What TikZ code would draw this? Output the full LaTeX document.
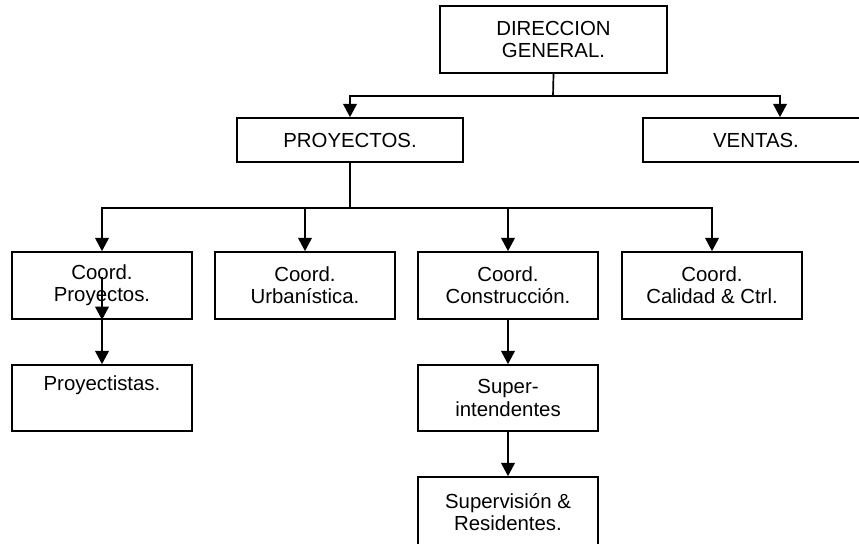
\documentclass[tikz,border=0pt]{standalone}
\usepackage{fontspec}
\setmainfont{Liberation Sans}
\usetikzlibrary{arrows.meta,positioning,calc}
\tikzset{
    every node/.append style={align=center},
    box/.style={rectangle,draw=black,line width=1.2pt,minimum width=4.5cm,
        minimum height=1.675cm,font=\fontsize{14.5}{15.8}\selectfont,inner sep=2pt},
    topbox/.style={box,minimum width=5.65cm,minimum height=1.1cm},
    arr/.style={-{Triangle[length=3.3mm,width=3.4mm]},line width=1.2pt},
    link/.style={line width=1.2pt}
}

\begin{document}
\begin{tikzpicture}[x=0.025cm,y=-0.025cm]
    \useasboundingbox (0,0) rectangle (859,544);
    \clip (0,0) rectangle (859,544);

    % top levels
    \node[box,minimum width=5.675cm] (dir) at (553.5,39.5) {DIRECCION\\GENERAL.};
    \node[topbox] (proy) at (350,140) {PROYECTOS.};
    \node[topbox] (ventas) at (756,140) {VENTAS.};

    % coordinations
    \node[box] (cproy) at (102,285.5) {Coord.\\Proyectos.};
    \node[box] (curb) at (305,285.5) {Coord.\\Urbanística.};
    \node[box] (ccons) at (508,285.5) {Coord.\\Construcción.};
    \node[box] (ccal) at (712,285.5) {Coord.\\Calidad \& Ctrl.};

    % lower levels
    \node[box,minimum height=1.65cm] (proyectistas) at (102,398) {Proyectistas.\\\strut};
    \node[box,minimum height=1.65cm] (super) at (508,398) {Super-\\intendentes};
    \node[box,minimum height=1.75cm] (superv) at (508,512) {Supervisión \&\\Residentes.};

    \coordinate (j1) at (553,96);
    \coordinate (j2) at (350,208);
    \coordinate (cpin) at (102,277);

    \draw[link] (dir.south) -- (j1);
    \draw[arr] (j1) -| (proy.north);
    \draw[arr] (j1) -| ([xshift=0.6cm]ventas.north);

    \draw[link] (proy.south) -- (j2);
    \draw[arr] (j2) -| (cproy.north);
    \draw[arr] (j2) -| (curb.north);
    \draw[arr] (j2) -| (ccons.north);
    \draw[arr] (j2) -| (ccal.north);

    \draw[arr] (cpin) -- (cproy.south);
    \draw[arr] (cproy.south) -- (proyectistas.north);
    \draw[arr] (ccons.south) -- (super.north);
    \draw[arr] (super.south) -- (superv.north);
\end{tikzpicture}
\end{document}
